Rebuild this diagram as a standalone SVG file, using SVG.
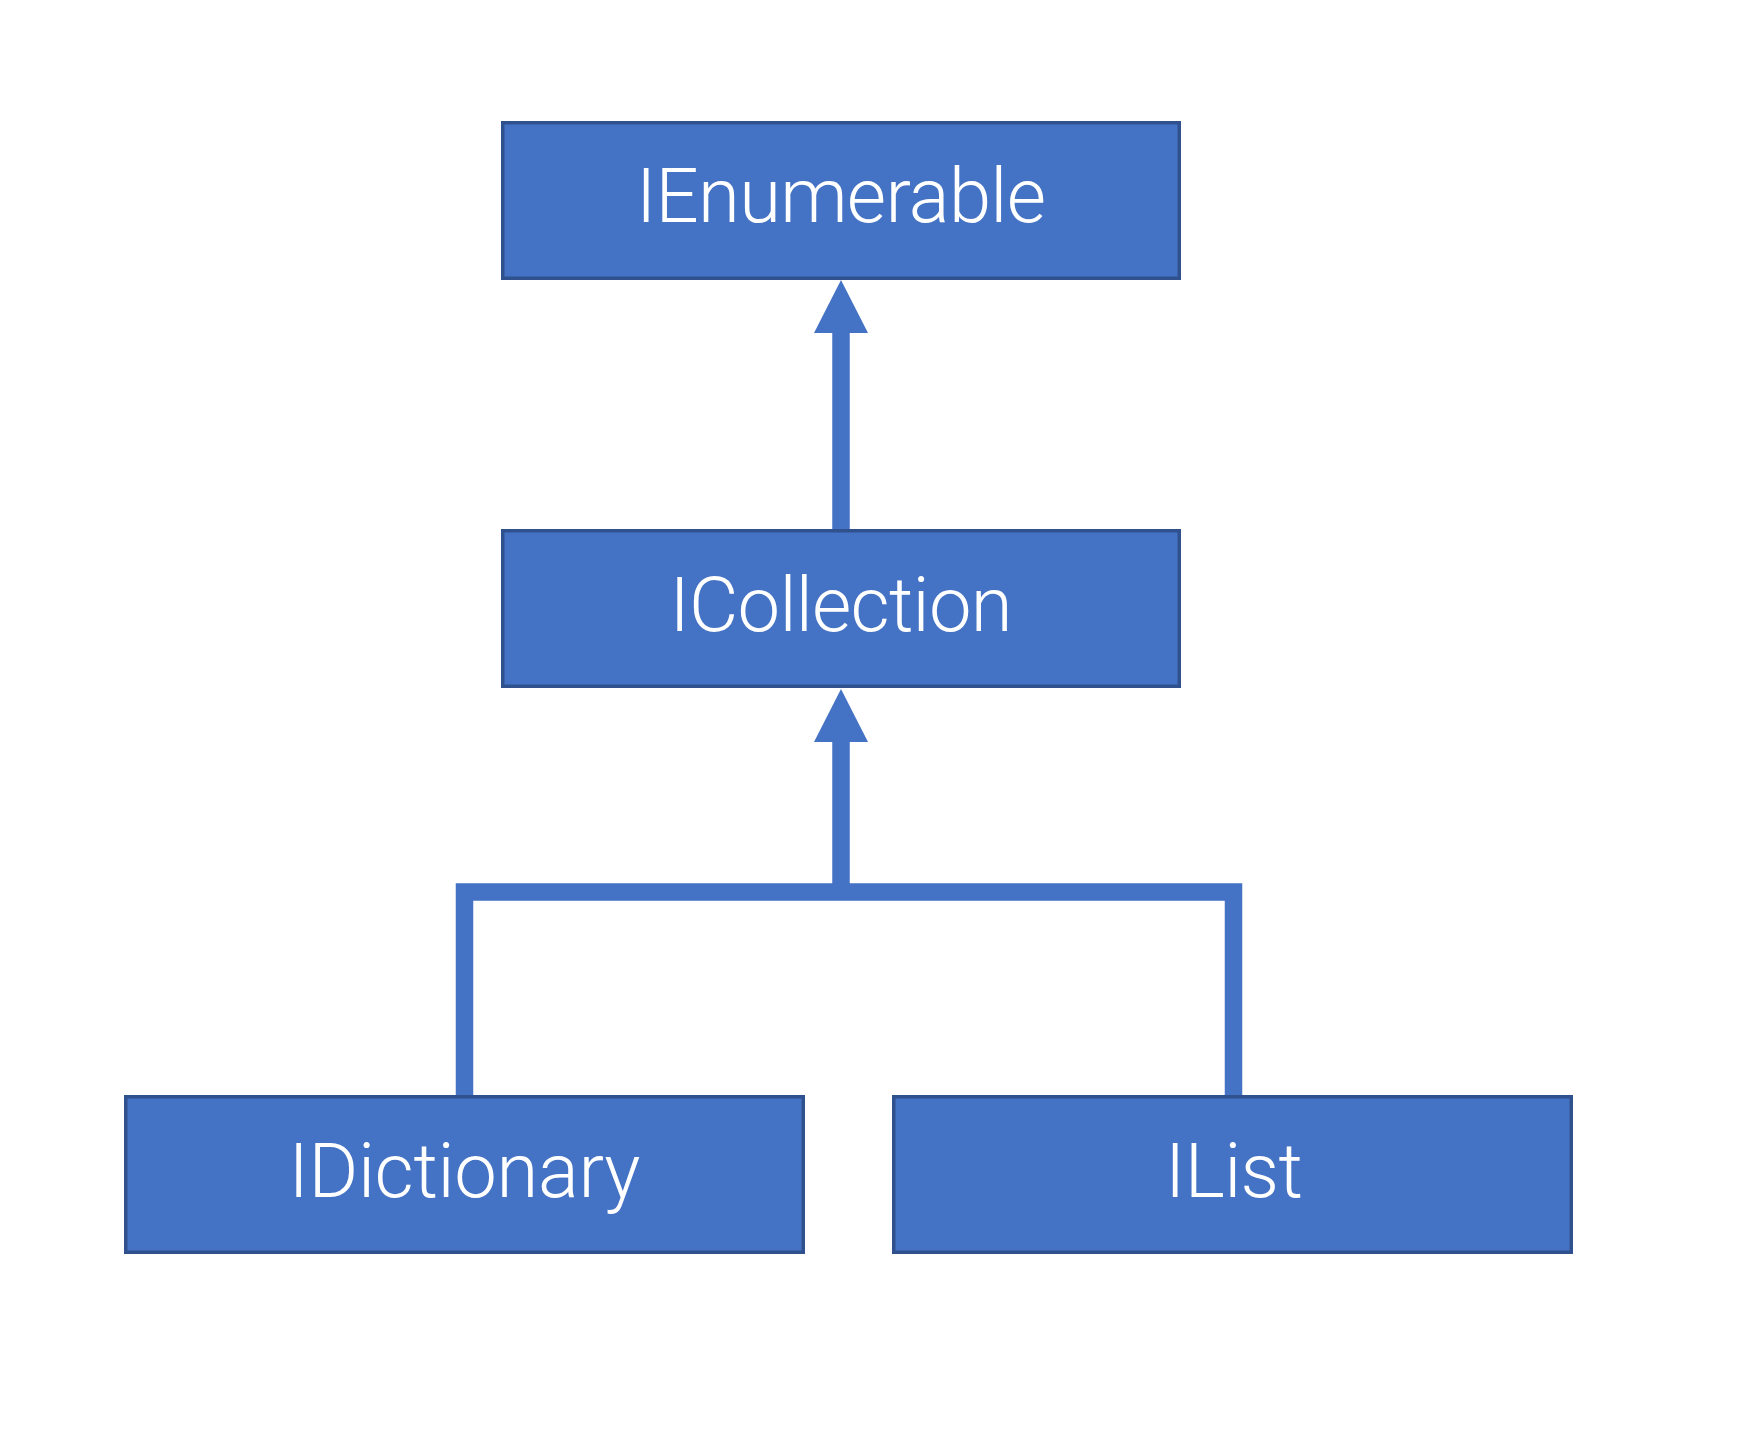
<svg xmlns="http://www.w3.org/2000/svg" width="1758" height="1437" viewBox="0 0 1758 1437">
<style>
.box{fill:#4472C4;stroke:#2F528F;stroke-width:3.5}
.lbl{fill:#FFFFFF;font-family:Roboto,"Liberation Sans",Arial,sans-serif;font-weight:300;font-size:76px;text-anchor:middle}
.conn{fill:none;stroke:#4472C4;stroke-width:17.5;stroke-linejoin:miter;stroke-linecap:butt}
</style>
<defs>
<marker id="tri" markerUnits="userSpaceOnUse" markerWidth="54" markerHeight="56" refX="0" refY="27" orient="auto" overflow="visible">
<path d="M0 0 L53 27 L0 54 Z" fill="#4472C4"/>
</marker>
</defs>
<rect width="1758" height="1437" fill="#FFFFFF"/>
<g id="connectors">
<path class="conn" d="M841 529 V333" marker-end="url(#tri)"/>
<path class="conn" d="M841 892 V742" marker-end="url(#tri)"/>
<path class="conn" d="M464.5 1095 V892 H1233.5 V1095"/>
</g>
<g id="IEnumerable">
<rect class="box" x="502.75" y="122.75" width="676.5" height="155.5"/>
<text class="lbl" x="841" y="222" textLength="410" lengthAdjust="spacing">IEnumerable</text>
</g>
<g id="ICollection">
<rect class="box" x="502.75" y="530.75" width="676.5" height="155.5"/>
<text class="lbl" x="841" y="631" textLength="343" lengthAdjust="spacing">ICollection</text>
</g>
<g id="IDictionary">
<rect class="box" x="125.75" y="1096.75" width="677.5" height="155.5"/>
<text class="lbl" x="464.5" y="1197" textLength="352" lengthAdjust="spacing">IDictionary</text>
</g>
<g id="IList">
<rect class="box" x="893.75" y="1096.75" width="677.5" height="155.5"/>
<text class="lbl" x="1234" y="1197" textLength="138" lengthAdjust="spacing">IList</text>
</g>
</svg>
